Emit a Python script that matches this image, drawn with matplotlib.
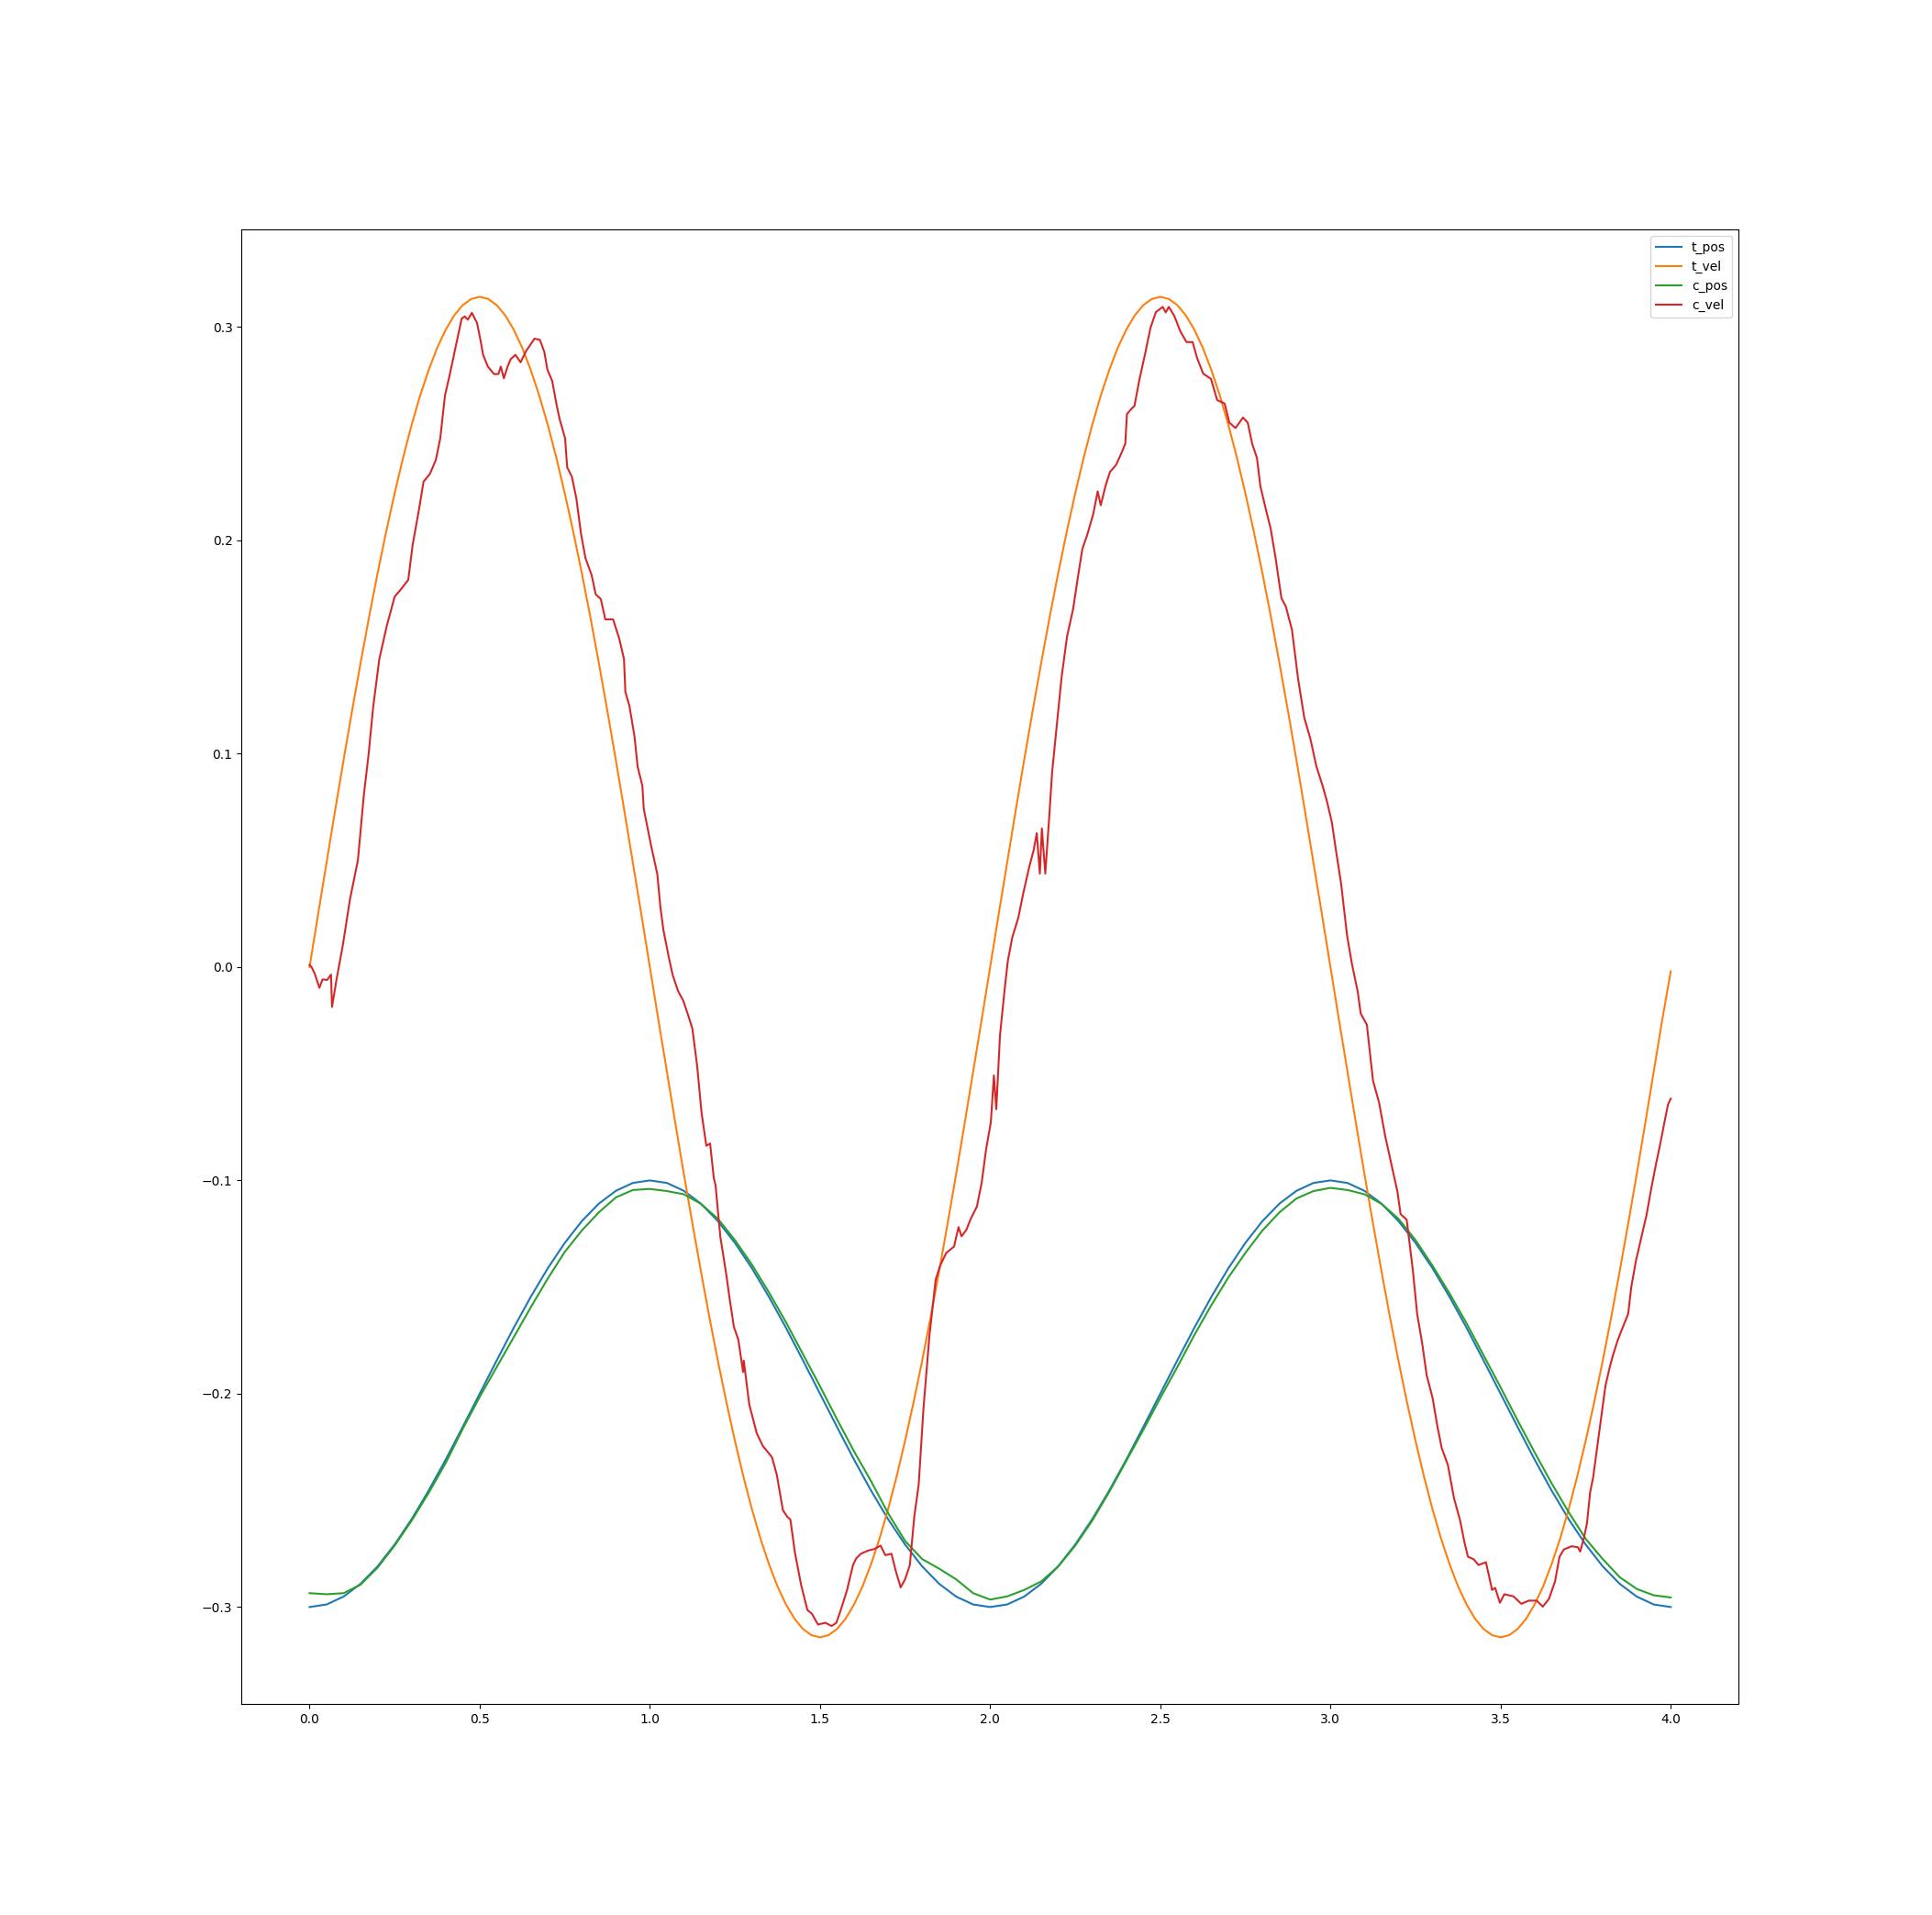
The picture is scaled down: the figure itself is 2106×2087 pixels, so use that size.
import numpy as np
import matplotlib
matplotlib.use('Agg')
import matplotlib.pyplot as plt

# target position, sampled every 0.05 s
t_pos = [-0.3000, -0.2988, -0.2951, -0.2891, -0.2809, -0.2707, -0.2588, -0.2454, -0.2309, -0.2156,
         -0.2000, -0.1844, -0.1691, -0.1546, -0.1412, -0.1293, -0.1191, -0.1109, -0.1049, -0.1012,
         -0.1000, -0.1012, -0.1049, -0.1109, -0.1191, -0.1293, -0.1412, -0.1546, -0.1691, -0.1844,
         -0.2000, -0.2156, -0.2309, -0.2454, -0.2588, -0.2707, -0.2809, -0.2891, -0.2951, -0.2988,
         -0.3000, -0.2988, -0.2951, -0.2891, -0.2809, -0.2707, -0.2588, -0.2454, -0.2309, -0.2156,
         -0.2000, -0.1844, -0.1691, -0.1546, -0.1412, -0.1293, -0.1191, -0.1109, -0.1049, -0.1012,
         -0.1000, -0.1012, -0.1049, -0.1109, -0.1191, -0.1293, -0.1412, -0.1546, -0.1691, -0.1844,
         -0.2000, -0.2156, -0.2309, -0.2454, -0.2588, -0.2707, -0.2809, -0.2891, -0.2951, -0.2988,
         -0.3000]

# controller position, same 0.05 s grid
c_pos = [-0.2935, -0.2940, -0.2935, -0.2895, -0.2815, -0.2712, -0.2595, -0.2465, -0.2325, -0.2165,
         -0.2015, -0.1875, -0.1735, -0.1595, -0.1460, -0.1335, -0.1235, -0.1150, -0.1080, -0.1045,
         -0.1040, -0.1050, -0.1065, -0.1110, -0.1180, -0.1280, -0.1395, -0.1525, -0.1665, -0.1815,
         -0.1965, -0.2120, -0.2270, -0.2410, -0.2560, -0.2690, -0.2775, -0.2820, -0.2870, -0.2935,
         -0.2965, -0.2950, -0.2920, -0.2880, -0.2810, -0.2712, -0.2595, -0.2460, -0.2315, -0.2170,
         -0.2020, -0.1875, -0.1725, -0.1585, -0.1455, -0.1340, -0.1235, -0.1150, -0.1085, -0.1050,
         -0.1035, -0.1045, -0.1065, -0.1110, -0.1180, -0.1280, -0.1400, -0.1530, -0.1670, -0.1820,
         -0.1970, -0.2125, -0.2275, -0.2420, -0.2555, -0.2680, -0.2775, -0.2860, -0.2915, -0.2945,
         -0.2955]

# target velocity, sampled every 0.025 s
t_vel = [0.0000, 0.0247, 0.0491, 0.0733, 0.0971, 0.1202, 0.1426, 0.1642, 0.1847, 0.2040,
         0.2221, 0.2389, 0.2542, 0.2679, 0.2799, 0.2903, 0.2988, 0.3055, 0.3103, 0.3132,
         0.3142, 0.3132, 0.3103, 0.3055, 0.2988, 0.2903, 0.2799, 0.2679, 0.2542, 0.2389,
         0.2221, 0.2040, 0.1847, 0.1642, 0.1426, 0.1202, 0.0971, 0.0733, 0.0491, 0.0247,
         0.0000, -0.0247, -0.0491, -0.0733, -0.0971, -0.1202, -0.1426, -0.1642, -0.1847, -0.2040,
         -0.2221, -0.2389, -0.2542, -0.2679, -0.2799, -0.2903, -0.2988, -0.3055, -0.3103, -0.3132,
         -0.3142, -0.3132, -0.3103, -0.3055, -0.2988, -0.2903, -0.2799, -0.2679, -0.2542, -0.2389,
         -0.2221, -0.2040, -0.1847, -0.1642, -0.1426, -0.1202, -0.0971, -0.0733, -0.0491, -0.0247,
         0.0000, 0.0247, 0.0491, 0.0733, 0.0971, 0.1202, 0.1426, 0.1642, 0.1847, 0.2040,
         0.2221, 0.2389, 0.2542, 0.2679, 0.2799, 0.2903, 0.2988, 0.3055, 0.3103, 0.3132,
         0.3142, 0.3132, 0.3103, 0.3055, 0.2988, 0.2903, 0.2799, 0.2679, 0.2542, 0.2389,
         0.2221, 0.2040, 0.1847, 0.1642, 0.1426, 0.1202, 0.0971, 0.0733, 0.0491, 0.0247,
         0.0000, -0.0247, -0.0491, -0.0733, -0.0971, -0.1202, -0.1426, -0.1642, -0.1847, -0.2040,
         -0.2221, -0.2389, -0.2542, -0.2679, -0.2799, -0.2903, -0.2988, -0.3055, -0.3103, -0.3132,
         -0.3142, -0.3132, -0.3103, -0.3055, -0.2988, -0.2903, -0.2799, -0.2679, -0.2542, -0.2389,
         -0.2221, -0.2040, -0.1847, -0.1642, -0.1426, -0.1202, -0.0971, -0.0733, -0.0491, -0.0247,
         -0.0020]

# controller velocity, (time, value) pairs
c_vel_time = [0.000, 0.006, 0.015, 0.029, 0.038, 0.052, 0.063, 0.066, 0.079, 0.097,
              0.119, 0.142, 0.160, 0.173, 0.187, 0.205, 0.227, 0.250, 0.268, 0.290,
              0.303, 0.321, 0.335, 0.353, 0.371, 0.384, 0.398, 0.411, 0.429, 0.447,
              0.456, 0.465, 0.477, 0.492, 0.501, 0.510, 0.524, 0.542, 0.555, 0.562,
              0.571, 0.582, 0.591, 0.605, 0.620, 0.636, 0.661, 0.677, 0.690, 0.699,
              0.713, 0.726, 0.735, 0.751, 0.757, 0.771, 0.784, 0.798, 0.811, 0.829,
              0.841, 0.856, 0.869, 0.892, 0.910, 0.924, 0.928, 0.940, 0.955, 0.964,
              0.978, 0.982, 1.004, 1.022, 1.031, 1.040, 1.055, 1.067, 1.083, 1.098,
              1.112, 1.125, 1.139, 1.152, 1.166, 1.177, 1.188, 1.193, 1.207, 1.225,
              1.234, 1.247, 1.260, 1.274, 1.276, 1.292, 1.314, 1.332, 1.359, 1.373,
              1.391, 1.404, 1.413, 1.426, 1.444, 1.463, 1.476, 1.494, 1.516, 1.534,
              1.548, 1.561, 1.579, 1.597, 1.606, 1.620, 1.642, 1.660, 1.678, 1.692,
              1.710, 1.723, 1.737, 1.750, 1.764, 1.777, 1.790, 1.804, 1.822, 1.840,
              1.853, 1.871, 1.894, 1.907, 1.916, 1.930, 1.943, 1.961, 1.975, 1.988,
              2.002, 2.011, 2.018, 2.029, 2.043, 2.052, 2.065, 2.083, 2.097, 2.115,
              2.128, 2.137, 2.146, 2.152, 2.162, 2.173, 2.182, 2.195, 2.210, 2.226,
              2.244, 2.258, 2.271, 2.285, 2.303, 2.316, 2.325, 2.339, 2.352, 2.370,
              2.384, 2.397, 2.402, 2.415, 2.424, 2.438, 2.456, 2.471, 2.487, 2.507,
              2.516, 2.525, 2.541, 2.559, 2.577, 2.595, 2.608, 2.626, 2.649, 2.667,
              2.689, 2.703, 2.721, 2.743, 2.757, 2.770, 2.784, 2.794, 2.811, 2.824,
              2.838, 2.856, 2.869, 2.887, 2.905, 2.923, 2.941, 2.959, 2.977, 2.990,
              3.004, 3.017, 3.031, 3.049, 3.063, 3.080, 3.089, 3.107, 3.125, 3.143,
              3.161, 3.179, 3.197, 3.206, 3.224, 3.242, 3.255, 3.269, 3.283, 3.300,
              3.314, 3.327, 3.345, 3.363, 3.381, 3.394, 3.404, 3.421, 3.435, 3.457,
              3.466, 3.475, 3.484, 3.498, 3.511, 3.538, 3.561, 3.583, 3.606, 3.624,
              3.642, 3.660, 3.673, 3.686, 3.709, 3.727, 3.734, 3.745, 3.754, 3.763,
              3.772, 3.781, 3.790, 3.799, 3.808, 3.821, 3.830, 3.844, 3.857, 3.875,
              3.884, 3.898, 3.916, 3.929, 3.943, 3.956, 3.970, 3.983, 3.992, 4.000]
c_vel = [0.0010, 0.0000, -0.0030, -0.0097, -0.0058, -0.0060, -0.0035, -0.0187, -0.0060, 0.0095,
         0.0320, 0.0500, 0.0814, 0.0990, 0.1220, 0.1444, 0.1600, 0.1736, 0.1770, 0.1815,
         0.1980, 0.2140, 0.2276, 0.2310, 0.2377, 0.2478, 0.2680, 0.2770, 0.2905, 0.3040,
         0.3050, 0.3035, 0.3067, 0.3020, 0.2950, 0.2870, 0.2815, 0.2780, 0.2780, 0.2815,
         0.2760, 0.2815, 0.2850, 0.2870, 0.2835, 0.2887, 0.2946, 0.2940, 0.2883, 0.2800,
         0.2748, 0.2635, 0.2568, 0.2478, 0.2343, 0.2298, 0.2197, 0.2028, 0.1916, 0.1837,
         0.1747, 0.1725, 0.1630, 0.1630, 0.1540, 0.1444, 0.1290, 0.1224, 0.1080, 0.0940,
         0.0850, 0.0742, 0.0567, 0.0435, 0.0281, 0.0172, 0.0051, -0.0037, -0.0113, -0.0157,
         -0.0223, -0.0289, -0.0464, -0.0684, -0.0838, -0.0827, -0.0990, -0.1022, -0.1263, -0.1445,
         -0.1550, -0.1687, -0.1747, -0.1898, -0.1845, -0.2049, -0.2185, -0.2245, -0.2298, -0.2380,
         -0.2546, -0.2577, -0.2590, -0.2742, -0.2893, -0.3014, -0.3031, -0.3082, -0.3074, -0.3089,
         -0.3074, -0.3014, -0.2923, -0.2803, -0.2773, -0.2750, -0.2735, -0.2728, -0.2712, -0.2757,
         -0.2750, -0.2833, -0.2908, -0.2870, -0.2803, -0.2577, -0.2426, -0.2070, -0.1720, -0.1465,
         -0.1400, -0.1340, -0.1310, -0.1219, -0.1262, -0.1232, -0.1180, -0.1123, -0.1012, -0.0855,
         -0.0728, -0.0508, -0.0666, -0.0318, -0.0098, 0.0029, 0.0139, 0.0233, 0.0344, 0.0470,
         0.0549, 0.0628, 0.0438, 0.0650, 0.0438, 0.0690, 0.0912, 0.1120, 0.1360, 0.1550,
         0.1680, 0.1830, 0.1960, 0.2025, 0.2124, 0.2230, 0.2165, 0.2255, 0.2321, 0.2354,
         0.2403, 0.2453, 0.2592, 0.2617, 0.2630, 0.2749, 0.2880, 0.2996, 0.3070, 0.3095,
         0.3069, 0.3095, 0.3053, 0.2980, 0.2930, 0.2930, 0.2856, 0.2782, 0.2757, 0.2658,
         0.2642, 0.2552, 0.2527, 0.2576, 0.2552, 0.2453, 0.2387, 0.2255, 0.2140, 0.2058,
         0.1926, 0.1729, 0.1690, 0.1580, 0.1350, 0.1170, 0.1070, 0.0939, 0.0850, 0.0775,
         0.0680, 0.0539, 0.0395, 0.0147, 0.0016, -0.0114, -0.0218, -0.0270, -0.0532, -0.0636,
         -0.0793, -0.0923, -0.1054, -0.1158, -0.1184, -0.1419, -0.1628, -0.1758, -0.1915, -0.2019,
         -0.2150, -0.2255, -0.2333, -0.2489, -0.2594, -0.2698, -0.2764, -0.2776, -0.2803, -0.2790,
         -0.2855, -0.2920, -0.2910, -0.2980, -0.2940, -0.2950, -0.2985, -0.2970, -0.2970, -0.2998,
         -0.2962, -0.2880, -0.2765, -0.2730, -0.2715, -0.2720, -0.2740, -0.2675, -0.2606, -0.2463,
         -0.2392, -0.2285, -0.2178, -0.2071, -0.1964, -0.1874, -0.1821, -0.1750, -0.1697, -0.1625,
         -0.1500, -0.1375, -0.1250, -0.1161, -0.1036, -0.0929, -0.0822, -0.0715, -0.0644, -0.0617]

time_pos = np.linspace(0, 4, len(t_pos))
time_vel = np.linspace(0, 4, len(t_vel))

fig = plt.figure(figsize=(21.06, 20.87), dpi=100)
plt.plot(time_pos, t_pos, label="t_pos")
plt.plot(time_vel, t_vel, label="t_vel")
plt.plot(time_pos, c_pos, label="c_pos")
plt.plot(c_vel_time, c_vel, label="c_vel")
plt.legend()

plt.savefig("out.png", dpi=100)
